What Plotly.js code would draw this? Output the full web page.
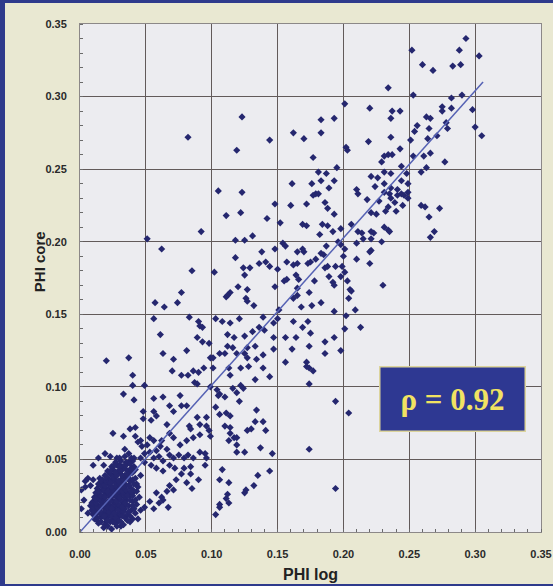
<!DOCTYPE html>
<html>
<head>
<meta charset="utf-8">
<script src="https://cdn.plot.ly/plotly-3.0.1.min.js"></script>
<style>
  html, body { margin: 0; padding: 0; }
  body { width: 553px; height: 586px; background: #2e3a8c; position: relative; overflow: hidden; }
  #chart { position: absolute; left: 5px; top: 3px; width: 548px; height: 581px; }
</style>
</head>
<body>
<div id="chart"></div>
<script>
// Tick values / labels
const tickValues = [0, 0.05, 0.10, 0.15, 0.20, 0.25, 0.30, 0.35];
const tickLabels = ['0.00', '0.05', '0.10', '0.15', '0.20', '0.25', '0.30', '0.35'];

// Fit line endpoints (PHI log, PHI core)
const fitLog = [0.0, 0.306];
const fitCore = [0.0, 0.310];
const rhoText = 'ρ = 0.92';

// Scatter samples [PHI log, PHI core]
const pointsUpper = [
[0.082,0.272],[0.123,0.286],[0.119,0.263],[0.144,0.270],[0.162,0.275],[0.105,0.235],[0.123,0.234],[0.161,0.240],
[0.293,0.340],[0.288,0.332],[0.303,0.328],[0.252,0.332],[0.260,0.322],[0.268,0.318],[0.283,0.321],[0.289,0.322],
[0.234,0.306],[0.253,0.301],[0.282,0.299],[0.290,0.301],[0.201,0.295],[0.220,0.292],[0.237,0.290],[0.243,0.290],
[0.236,0.285],[0.183,0.284],[0.193,0.285],[0.275,0.293],[0.282,0.292],[0.275,0.290],[0.298,0.291],[0.263,0.286],
[0.266,0.285],[0.256,0.280],[0.254,0.276],[0.265,0.278],[0.278,0.282],[0.279,0.278],[0.300,0.279],[0.305,0.273],
[0.170,0.271],[0.183,0.275],[0.236,0.272],[0.219,0.269],[0.251,0.270],[0.271,0.273],[0.264,0.271],[0.202,0.265],
[0.203,0.263],[0.243,0.264],[0.253,0.259],[0.261,0.259],[0.266,0.261],[0.234,0.260],[0.237,0.260],[0.231,0.259],
[0.229,0.255],[0.177,0.258],[0.195,0.251],[0.277,0.255],[0.263,0.251],[0.259,0.248],[0.181,0.248],[0.187,0.247],
[0.183,0.242],[0.193,0.242],[0.221,0.245],[0.226,0.244],[0.231,0.248],[0.236,0.247],[0.244,0.252],[0.248,0.247],
[0.244,0.242],[0.176,0.240],[0.189,0.237],[0.210,0.236],[0.224,0.238],[0.231,0.240],[0.236,0.237],[0.241,0.236],
[0.249,0.240],[0.179,0.233],[0.231,0.234],[0.235,0.233],[0.244,0.233],[0.249,0.234],[0.211,0.233]
];

const pointsMiddle = [
[0.148,0.226],[0.160,0.225],[0.111,0.218],[0.122,0.220],[0.142,0.216],[0.152,0.213],[0.092,0.207],[0.051,0.202],
[0.118,0.201],[0.125,0.201],[0.131,0.204],[0.154,0.199],[0.156,0.197],[0.062,0.195],[0.148,0.195],[0.138,0.193],
[0.118,0.189],[0.085,0.180],[0.102,0.179],[0.124,0.182],[0.129,0.182],[0.136,0.185],[0.141,0.186],[0.144,0.183],
[0.150,0.181],[0.157,0.186],[0.162,0.184],[0.125,0.177],[0.155,0.173],[0.157,0.174],[0.120,0.169],[0.148,0.169],
[0.127,0.167],[0.077,0.165],[0.114,0.165],[0.111,0.162],[0.112,0.163],[0.057,0.158],[0.074,0.158],[0.126,0.161],
[0.127,0.159],[0.064,0.155],[0.132,0.156],[0.151,0.153],[0.162,0.161],[0.056,0.147],[0.083,0.148],[0.103,0.147],
[0.108,0.145],[0.114,0.144],[0.121,0.147],[0.090,0.145],[0.091,0.142],[0.093,0.141],[0.139,0.148],[0.147,0.144],
[0.150,0.147],[0.061,0.136],[0.112,0.136],[0.117,0.134],[0.125,0.135],[0.131,0.138],[0.136,0.141],[0.140,0.139],
[0.089,0.134],[0.093,0.131],[0.098,0.130],[0.081,0.125],[0.112,0.128],[0.116,0.127],[0.127,0.127],[0.133,0.128],
[0.147,0.134],[0.156,0.134],[0.161,0.126],[0.063,0.123],[0.020,0.118],[0.037,0.120],[0.071,0.119],[0.099,0.120],
[0.101,0.120],[0.106,0.123],[0.110,0.123],[0.119,0.123],[0.125,0.123],[0.127,0.120],[0.134,0.119],[0.139,0.122],
[0.147,0.126],[0.156,0.117],
[0.177,0.232],[0.181,0.233],[0.218,0.229],[0.236,0.230],[0.241,0.232],[0.246,0.232],[0.249,0.230],[0.239,0.227],
[0.245,0.225],[0.234,0.224],[0.227,0.228],[0.172,0.226],[0.186,0.227],[0.188,0.223],[0.193,0.219],[0.259,0.225],
[0.262,0.224],[0.273,0.223],[0.265,0.217],[0.269,0.207],[0.266,0.203],[0.221,0.220],[0.225,0.219],[0.232,0.221],
[0.240,0.221],[0.169,0.212],[0.172,0.211],[0.184,0.212],[0.188,0.211],[0.206,0.212],[0.192,0.207],[0.182,0.205],
[0.198,0.209],[0.211,0.207],[0.214,0.206],[0.221,0.207],[0.223,0.206],[0.231,0.210],[0.234,0.208],[0.235,0.207],
[0.215,0.202],[0.221,0.202],[0.229,0.200],[0.210,0.199],[0.196,0.200],[0.198,0.198],[0.187,0.197],[0.165,0.193],
[0.170,0.193],[0.169,0.195],[0.183,0.192],[0.185,0.191],[0.201,0.195],[0.221,0.194],[0.220,0.193],[0.165,0.185],
[0.175,0.186],[0.179,0.188],[0.173,0.185],[0.210,0.188],[0.220,0.185],[0.200,0.190],[0.186,0.182],[0.188,0.183],
[0.194,0.183],[0.199,0.183],[0.201,0.179],[0.164,0.177],[0.166,0.174],[0.189,0.176],[0.198,0.176],[0.178,0.173],
[0.192,0.172],[0.193,0.170],[0.165,0.168],[0.203,0.173],[0.205,0.167],[0.206,0.166],[0.204,0.161],[0.230,0.170],
[0.174,0.165],[0.165,0.163],[0.183,0.158],[0.176,0.156],[0.168,0.155],[0.209,0.153],[0.193,0.152],[0.202,0.149],
[0.162,0.145],[0.173,0.145],[0.169,0.141],[0.213,0.141],[0.201,0.140],[0.175,0.137],[0.164,0.134],[0.193,0.134],
[0.186,0.131],[0.174,0.128],[0.186,0.123],[0.198,0.125],[0.172,0.117],
[0.172,0.114],[0.174,0.113],[0.177,0.111],[0.174,0.102],[0.194,0.090],[0.204,0.082],[0.174,0.057],[0.194,0.030]
];

const pointsLower = [
[0.040,0.108],[0.040,0.101],[0.070,0.111],[0.077,0.108],[0.082,0.108],[0.086,0.111],[0.090,0.110],[0.094,0.113],
[0.087,0.103],[0.089,0.102],[0.101,0.113],[0.113,0.113],[0.114,0.108],[0.122,0.113],[0.128,0.114],[0.133,0.105],
[0.139,0.113],[0.144,0.107],[0.033,0.095],[0.041,0.091],[0.049,0.101],[0.056,0.092],[0.063,0.093],[0.076,0.094],
[0.081,0.087],[0.077,0.087],[0.071,0.083],[0.068,0.087],[0.066,0.074],[0.058,0.080],[0.054,0.077],[0.048,0.078],
[0.048,0.083],[0.056,0.083],[0.042,0.072],[0.038,0.071],[0.025,0.068],[0.033,0.066],[0.042,0.066],[0.046,0.063],
[0.053,0.065],[0.056,0.063],[0.062,0.063],[0.068,0.068],[0.071,0.065],[0.076,0.060],[0.081,0.063],[0.086,0.065],
[0.091,0.067],[0.083,0.073],[0.084,0.071],[0.089,0.079],[0.091,0.074],[0.096,0.079],[0.096,0.073],[0.098,0.070],
[0.099,0.066],[0.095,0.054],[0.091,0.055],[0.096,0.051],[0.095,0.046],[0.099,0.100],[0.104,0.098],[0.106,0.095],
[0.105,0.094],[0.110,0.093],[0.116,0.099],[0.119,0.096],[0.121,0.090],[0.124,0.099],[0.122,0.101],[0.103,0.086],
[0.106,0.081],[0.111,0.082],[0.114,0.080],[0.110,0.073],[0.114,0.072],[0.114,0.068],[0.117,0.065],[0.119,0.065],
[0.113,0.063],[0.119,0.060],[0.119,0.055],[0.125,0.055],[0.127,0.070],[0.130,0.071],[0.134,0.084],[0.133,0.076],
[0.139,0.076],[0.141,0.070],[0.137,0.058],[0.146,0.054],[0.108,0.043],[0.106,0.036],[0.113,0.034],[0.112,0.026],
[0.111,0.023],[0.106,0.019],[0.103,0.012],[0.126,0.029],[0.132,0.032],[0.135,0.039],[0.144,0.042],[0.106,0.017],
[0.113,0.020],[0.125,0.027],
[0.034,0.057],[0.037,0.054],[0.044,0.062],[0.047,0.059],[0.051,0.060],[0.053,0.055],[0.049,0.054],[0.058,0.056],
[0.061,0.059],[0.066,0.057],[0.068,0.053],[0.060,0.052],[0.056,0.051],[0.063,0.049],[0.071,0.051],[0.075,0.053],
[0.079,0.051],[0.082,0.053],[0.084,0.045],[0.086,0.051],[0.079,0.044],[0.072,0.044],[0.068,0.046],[0.063,0.042],
[0.058,0.044],[0.054,0.046],[0.049,0.048],[0.046,0.051],[0.041,0.051],[0.037,0.048],[0.028,0.051],[0.023,0.052],
[0.019,0.054],[0.014,0.051],[0.010,0.046],[0.018,0.046],[0.025,0.045],[0.030,0.046],[0.077,0.040],[0.084,0.040],
[0.090,0.036],[0.085,0.030],[0.081,0.034],[0.073,0.036],[0.068,0.032],[0.071,0.029],[0.066,0.028],[0.062,0.024],
[0.058,0.027],[0.063,0.022],[0.060,0.020],[0.067,0.017],[0.056,0.016],[0.053,0.021],[0.049,0.017],[0.046,0.015],
[0.044,0.009],[0.029,0.010],[0.028,0.007],[0.020,0.007],[0.013,0.008],[0.006,0.013],[0.001,0.016],[0.003,0.022],
[0.001,0.029],[0.004,0.031],[0.008,0.032],[0.010,0.036],[0.015,0.037],[0.006,0.037],[0.004,0.035]
];

const pointsCluster = [
[0.018,0.003],[0.024,0.002],[0.031,0.004],
[0.014,0.006],[0.019,0.005],[0.023,0.007],[0.027,0.006],[0.033,0.005],[0.038,0.007],
[0.011,0.009],[0.016,0.010],[0.020,0.009],[0.022,0.011],[0.025,0.009],[0.029,0.008],[0.034,0.010],[0.040,0.009],
[0.010,0.012],[0.013,0.013],[0.017,0.012],[0.019,0.014],[0.021,0.012],[0.024,0.013],[0.027,0.012],[0.030,0.013],[0.036,0.012],[0.042,0.013],
[0.009,0.015],[0.012,0.016],[0.015,0.015],[0.018,0.017],[0.020,0.015],[0.023,0.016],[0.026,0.015],[0.028,0.017],[0.031,0.015],[0.034,0.016],[0.039,0.015],
[0.008,0.018],[0.011,0.019],[0.014,0.018],[0.017,0.020],[0.019,0.018],[0.022,0.019],[0.025,0.018],[0.027,0.020],[0.030,0.018],[0.033,0.019],[0.037,0.018],[0.043,0.019],
[0.010,0.021],[0.013,0.022],[0.016,0.021],[0.018,0.023],[0.021,0.021],[0.024,0.022],[0.026,0.021],[0.029,0.023],[0.032,0.021],[0.035,0.022],[0.040,0.021],
[0.011,0.024],[0.014,0.025],[0.017,0.024],[0.020,0.026],[0.023,0.024],[0.025,0.025],[0.028,0.024],[0.031,0.026],[0.034,0.024],[0.038,0.025],[0.045,0.024],
[0.012,0.027],[0.015,0.028],[0.019,0.027],[0.022,0.029],[0.024,0.027],[0.027,0.028],[0.030,0.027],[0.033,0.029],[0.036,0.027],[0.041,0.028],
[0.013,0.030],[0.017,0.031],[0.020,0.030],[0.023,0.032],[0.026,0.030],[0.029,0.031],[0.032,0.030],[0.035,0.032],[0.039,0.030],[0.044,0.031],
[0.014,0.033],[0.018,0.034],[0.022,0.033],[0.025,0.035],[0.028,0.033],[0.031,0.034],[0.034,0.033],[0.038,0.035],[0.043,0.033],
[0.017,0.036],[0.021,0.037],[0.024,0.036],[0.027,0.038],[0.031,0.036],[0.035,0.037],[0.040,0.036],
[0.019,0.039],[0.023,0.040],[0.026,0.039],[0.030,0.041],[0.034,0.039],[0.038,0.040],[0.046,0.039],
[0.021,0.042],[0.025,0.043],[0.029,0.042],[0.033,0.044],[0.037,0.042],[0.042,0.043],
[0.024,0.045],[0.028,0.046],[0.032,0.045],[0.036,0.047],[0.041,0.045],
[0.027,0.048],[0.031,0.049],[0.035,0.048],[0.040,0.049],
[0.030,0.051],[0.034,0.052],[0.039,0.051]
];

// Extra marks inside the dense dark blob near the origin
const pointsClusterFill = [
[0.021,0.004],[0.028,0.004],[0.016,0.007],[0.021,0.008],[0.025,0.007],[0.031,0.007],[0.036,0.008],
[0.013,0.010],[0.018,0.011],[0.024,0.011],[0.027,0.010],[0.032,0.011],[0.038,0.011],
[0.011,0.014],[0.015,0.013],[0.022,0.014],[0.026,0.013],[0.029,0.015],[0.033,0.014],[0.037,0.014],[0.041,0.016],
[0.010,0.017],[0.013,0.017],[0.016,0.018],[0.021,0.017],[0.024,0.016],[0.029,0.019],[0.032,0.017],[0.035,0.019],[0.040,0.018],
[0.009,0.020],[0.012,0.020],[0.015,0.023],[0.020,0.020],[0.023,0.021],[0.028,0.021],[0.031,0.022],[0.034,0.020],[0.038,0.022],[0.042,0.022],
[0.012,0.023],[0.016,0.025],[0.019,0.024],[0.022,0.026],[0.027,0.025],[0.030,0.024],[0.033,0.026],[0.036,0.025],[0.040,0.025],
[0.014,0.028],[0.018,0.029],[0.021,0.028],[0.025,0.029],[0.029,0.028],[0.032,0.028],[0.035,0.029],[0.039,0.028],[0.043,0.028],
[0.016,0.032],[0.019,0.032],[0.024,0.031],[0.027,0.032],[0.030,0.033],[0.033,0.031],[0.037,0.032],[0.041,0.033],
[0.016,0.035],[0.020,0.035],[0.023,0.034],[0.026,0.036],[0.029,0.035],[0.033,0.036],[0.037,0.037],[0.042,0.037],
[0.020,0.038],[0.025,0.038],[0.028,0.039],[0.032,0.039],[0.036,0.040],[0.040,0.041],
[0.023,0.042],[0.027,0.041],[0.031,0.042],[0.035,0.043],[0.039,0.044],
[0.026,0.046],[0.030,0.045],[0.034,0.046],[0.038,0.047]
];

const allPoints = pointsUpper.concat(pointsMiddle, pointsLower, pointsCluster, pointsClusterFill);
const phiLog = allPoints.map(p => p[0]);
const phiCore = allPoints.map(p => p[1]);

const tickFont = { family: 'Liberation Sans, Arial, sans-serif', size: 11, color: '#2a2a2a', weight: 'bold' };

const traces = [
  {
    type: 'scatter', mode: 'markers', x: phiLog, y: phiCore,
    marker: { symbol: 'diamond', size: 5.5, color: '#25276f', line: { width: 0 } },
    hoverinfo: 'skip', showlegend: false
  },
  {
    type: 'scatter', mode: 'lines', x: fitLog, y: fitCore,
    line: { color: '#5662b4', width: 1.5 }, hoverinfo: 'skip', showlegend: false
  }
];

const axisCommon = {
  range: [0, 0.35],
  tickmode: 'array', tickvals: tickValues, ticktext: tickLabels,
  showgrid: true, gridcolor: '#625a5a', gridwidth: 1.2,
  zeroline: false, showline: true, linecolor: '#8c8888', linewidth: 1, mirror: true,
  ticks: '', tickfont: tickFont,
  minor: { tickmode: 'linear', tick0: 0, dtick: 0.01, ticks: 'inside', ticklen: 3, tickcolor: '#6a6a6a', tickwidth: 1, showgrid: false }
};

const layout = {
  width: 548, height: 581,
  margin: { l: 75, r: 12, t: 21, b: 52 },
  paper_bgcolor: '#e9e8d2',
  plot_bgcolor: '#ececf0',
  showlegend: false,
  xaxis: Object.assign({}, axisCommon, { ticklabelstandoff: 12 }),
  yaxis: Object.assign({}, axisCommon, { ticklabelstandoff: 10 }),
  annotations: [
    {
      xref: 'paper', yref: 'paper', x: 0.5, y: -0.083, xanchor: 'center', yanchor: 'middle',
      text: '<b>PHI log</b>', showarrow: false,
      font: { family: 'Liberation Sans, Arial, sans-serif', size: 16, color: '#222' }
    },
    {
      xref: 'paper', yref: 'paper', x: -0.089, y: 0.533, xanchor: 'center', yanchor: 'middle',
      text: '<b>PHI core</b>', showarrow: false, textangle: -90,
      font: { family: 'Liberation Sans, Arial, sans-serif', size: 15, color: '#222' }
    },
    {
      xref: 'paper', yref: 'paper', x: 0.809, y: 0.261, xanchor: 'center', yanchor: 'middle',
      text: '<b>' + rhoText + '</b>', showarrow: false,
      width: 140, height: 59, borderpad: 2, borderwidth: 1.5,
      bgcolor: '#2e3892', bordercolor: '#dcd49c',
      font: { family: 'Liberation Serif, Times New Roman, serif', size: 31, color: '#f1e262' }
    }
  ]
};

Plotly.newPlot('chart', traces, layout, { displayModeBar: false, staticPlot: true });
</script>
</body>
</html>
